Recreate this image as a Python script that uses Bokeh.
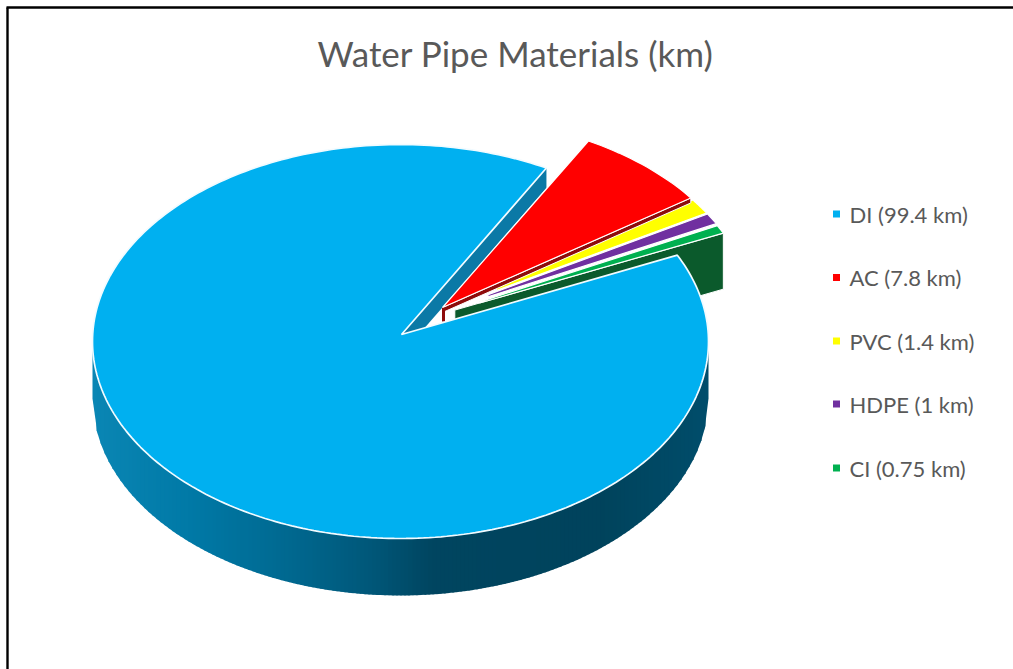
import numpy as np
from bokeh.plotting import figure
from bokeh.models import Range1d
from bokeh.core.properties import value
from bokeh.embed import file_html
from bokeh.resources import INLINE

title_text = "Water Pipe Materials (km)"
categories = ["DI", "AC", "PVC", "HDPE", "CI"]
lengths_km = [99.4, 7.8, 1.4, 1.0, 0.75]
length_labels = ["99.4", "7.8", "1.4", "1", "0.75"]
face_colors = ["#00B0F0", "#FF0000", "#FFFF00", "#7030A0", "#00B050"]
wall_colors = ["#0B79A6", "#8E0B0B", "#8F8F00", "#3F1B5B", "#0B5A2C"]
offsets_x = [0, 42, 44, 45, 46]
offsets_y = [0, -27, -25, -24, -22]
inner_fraction = [0, 0, 0.2, 0.16, 0.12]

CX, CY, RX, RY, DEPTH = 400, 341, 308, 197, 57
APEX_X, APEX_Y = 401, 334
START_DEG = 64.0

p = figure(width=1013, height=669, output_backend="svg", toolbar_location=None,
           x_range=Range1d(0, 1013), y_range=Range1d(669, 0), min_border=0,
           background_fill_color="white", border_fill_color="white",
           outline_line_color=None)
p.axis.visible = False
p.grid.visible = False


def rim_point(deg):
    a = np.radians(deg)
    return CX + RX * np.sin(a), CY - RY * np.cos(a)


def arc(d0, d1, n=80):
    return rim_point(np.linspace(d0, d1, n))


angles = np.array(lengths_km) / sum(lengths_km) * 360
starts = START_DEG + np.concatenate([[0], np.cumsum(angles)[:-1]])
ends = starts + angles

# outer rim of the DI slice, with its left-to-right shading
stop_x = [92, 191, 279, 367, 433, 600, 708]
stop_rgb = [(10, 134, 180), (0, 121, 166), (0, 106, 146), (0, 88, 122),
            (0, 69, 96), (0, 67, 92), (0, 77, 107)]
edges = np.arange(92, 709, 4.0)
xs, ys, cols = [], [], []
for a, b in zip(edges[:-1], edges[1:]):
    b2 = min(b + 1, 708)
    bot = CY + DEPTH + RY * np.sqrt(np.clip(1 - ((np.array([a, b2]) - CX) / RX) ** 2, 0, 1))
    xs.append([a, b2, b2, a])
    ys.append([CY, CY, bot[1], bot[0]])
    m = (a + b) / 2
    cols.append("#%02x%02x%02x" % tuple(int(round(np.interp(m, stop_x, [c[i] for c in stop_rgb]))) for i in range(3)))
p.patches(xs, ys, fill_color=cols, line_color=None)

# DI cut wall facing the gap
ex, ey = rim_point(ends[0])
p.patch([APEX_X, ex, ex, APEX_X], [APEX_Y, ey, ey + 20, APEX_Y + 20],
        fill_color=wall_colors[0], line_color=None)

# exploded slices, front-most small slice first so that each covers the next
for i in [4, 3, 2, 1]:
    dx, dy = offsets_x[i], offsets_y[i]
    ax, ay = APEX_X - 1 + dx, APEX_Y + dy
    ex, ey = rim_point(ends[i])
    ex, ey = ex + dx, ey + dy
    f = inner_fraction[i]
    if i in (1, 4):
        wf = 0.03 if i == 4 else 0.0
        wx0, wy0 = ax + (ex - ax) * wf, ay + (ey - ay) * wf
        h = 56 if i == 4 else 5
        p.patch([wx0, ex, ex, wx0], [wy0, ey, ey + h, wy0 + h],
                fill_color=wall_colors[i], line_color="white", line_width=1.0)
    if i == 1:
        p.line([ax + 1, ax + 1], [ay, ay + 14], line_color=wall_colors[i], line_width=3)
    sx, sy = rim_point(starts[i])
    sx, sy = sx + dx, sy + dy
    axs, ays = arc(starts[i], ends[i], 20)
    axs, ays = axs + dx, ays + dy
    p0 = [ax + (sx - ax) * f, ay + (sy - ay) * f]
    p1 = [ax + (ex - ax) * f, ay + (ey - ay) * f]
    p.patch([p0[0], *axs, p1[0]], [p0[1], *ays, p1[1]],
            fill_color=face_colors[i], line_color="white", line_width=1.2)

# DI top face
axs, ays = arc(starts[0], ends[0], 300)
p.patch([APEX_X, *axs], [APEX_Y, *ays], fill_color=face_colors[0],
        line_color="#F2FBFF", line_width=1.7)

# frame (open to the right and below, as the crop shows)
p.line([7, 7], [669, 7], line_color="black", line_width=2.4)
p.line([6, 1013], [7, 7], line_color="black", line_width=2.4)

p.text([515], [52.5], text=[title_text], text_font=value("Lato"), text_font_size="35px",
       text_color="#595959", text_align="center", text_baseline="middle")

legend_y = [213.5, 277, 340.5, 403.5, 467.5]
labels = [f"{c} ({v} km)" for c, v in zip(categories, length_labels)]
p.scatter([836] * 5, legend_y, marker="square", size=7, fill_color=face_colors, line_color=None)
p.text([849] * 5, legend_y, text=labels, text_font=value("Lato"), text_font_size="22px",
       text_color="#595959", text_align="left", text_baseline="middle")

open("out.html", "w").write(file_html(p, INLINE))
